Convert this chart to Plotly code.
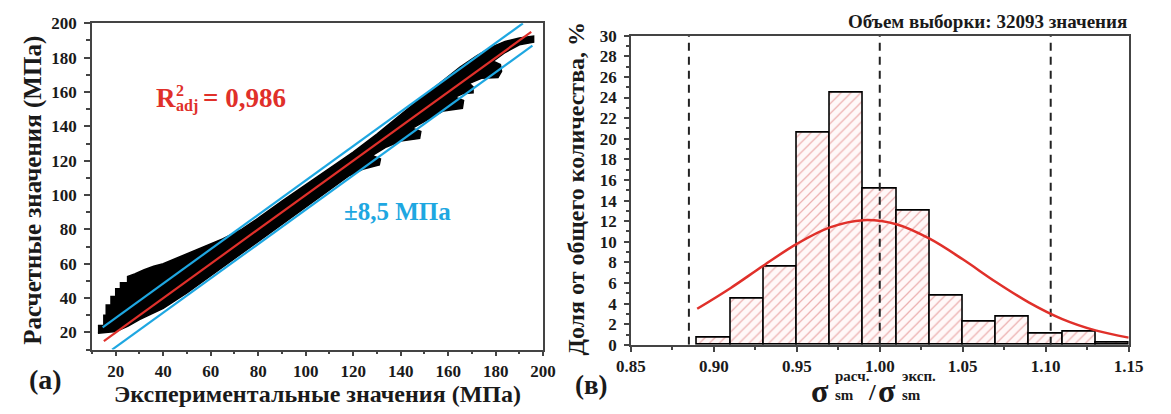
import plotly.graph_objects as go

W, H = 1171, 414

# ---------------- data: panel (a) ----------------
band_upper_x = [12.5, 15, 15, 16, 16, 18, 18, 20, 20, 22, 22, 25, 25, 28, 32, 36, 40, 46, 55, 65, 73, 80,
                90, 100, 110, 120, 130, 140, 150, 160, 165, 172, 178, 184, 190, 196]
band_upper_y = [24, 24, 30, 30, 36, 36, 41, 41, 45.5, 45.5, 49, 49, 52.5, 54, 56.5, 58.5, 60, 63.5, 68.5,
                74.5, 80, 86.5, 96.5, 106, 115.5, 125, 135.5, 147, 158, 169, 174.5, 181, 186, 189.5, 191.5, 192.5]
band_lower_x = [12.5, 20, 25, 30, 40, 50, 60, 70, 80, 90, 100, 110, 118, 124, 131, 131.5, 128, 134, 140,
                148, 148.5, 145, 150, 158, 166, 166.5, 163, 166, 170.5, 170.5, 169, 174, 181, 182.5, 182,
                179, 184, 190, 196, 196]
band_lower_y = [19.5, 20.5, 23.5, 27.5, 34, 43, 52.5, 62.5, 72.5, 82.5, 92.5, 103, 111, 115, 117.5, 121, 123,
                128, 131.5, 133, 137, 139, 143, 149, 150.5, 155, 157, 159, 159.5, 163, 165, 168, 168.5,
                172, 176, 178, 183, 187.5, 189, 192.5]
fit_x = [15, 195]
fit_y = [15, 195]
band_hi_x = [14.5, 191.5]
band_hi_y = [23, 200]
band_lo_x = [18.5, 195.5]
band_lo_y = [10, 187]
a_ticks = [20, 40, 60, 80, 100, 120, 140, 160, 180, 200]

# ---------------- data: panel (в) ----------------
bin_centers = [0.90, 0.92, 0.94, 0.96, 0.98, 1.00, 1.02, 1.04, 1.06, 1.08, 1.10, 1.12, 1.14]
bin_share = [0.7, 4.5, 7.6, 20.6, 24.5, 15.2, 13.0, 4.8, 2.2, 2.7, 1.1, 1.3, 0.25]
curve_x = [0.89, 0.91, 0.93, 0.95, 0.97, 0.99, 1.01, 1.03, 1.05, 1.07, 1.09, 1.11, 1.13, 1.15]
curve_y = [3.5, 5.5, 7.7, 9.8, 11.4, 12.1, 11.7, 10.3, 8.3, 6.1, 4.1, 2.5, 1.4, 0.7]
dash_lines = [0.885, 1.0, 1.103]
v_ticks = [0.85, 0.90, 0.95, 1.00, 1.05, 1.10, 1.15]
v_yticks = list(range(0, 31, 2))

RED = "#e0302a"
CYAN = "#1ea7e1"
SERIF = "Liberation Serif"
TXT = "#1a1a1a"
AX = "#444444"


def px(x):
    return x / W


def py(y):
    return 1 - y / H


fig = go.Figure()

# panel (a)
poly_x = band_upper_x + band_lower_x[::-1]
poly_y = band_upper_y + band_lower_y[::-1]
fig.add_trace(go.Scatter(x=poly_x, y=poly_y, fill="toself", fillcolor="black", mode="lines",
                         line=dict(color="black", width=1.5), xaxis="x", yaxis="y", hoverinfo="skip"))
fig.add_trace(go.Scatter(x=fit_x, y=fit_y, mode="lines", line=dict(color=RED, width=2.2),
                         xaxis="x", yaxis="y"))
fig.add_trace(go.Scatter(x=band_hi_x, y=band_hi_y, mode="lines", line=dict(color=CYAN, width=2.2),
                         xaxis="x", yaxis="y"))
fig.add_trace(go.Scatter(x=band_lo_x, y=band_lo_y, mode="lines", line=dict(color=CYAN, width=2.2),
                         xaxis="x", yaxis="y"))

# panel (в)
fig.add_trace(go.Bar(x=bin_centers, y=bin_share, width=0.02, xaxis="x2", yaxis="y2",
                     marker=dict(color="white", line=dict(color="black", width=1.6),
                                 pattern=dict(shape="/", fgcolor="rgba(210,80,80,0.85)", bgcolor="#fff8f8",
                                              size=7, solidity=0.18))))
for v in dash_lines:
    fig.add_trace(go.Scatter(x=[v, v], y=[0, 30], mode="lines", xaxis="x2", yaxis="y2",
                             line=dict(color="#222", width=2, dash="8px,6px")))
fig.add_trace(go.Scatter(x=curve_x, y=curve_y, mode="lines", line=dict(color=RED, width=2.5, shape="spline"),
                         xaxis="x2", yaxis="y2"))

tickfont = dict(family=SERIF, size=17, color=TXT, weight="bold")
common = dict(showgrid=False, zeroline=False, showline=True, linecolor=AX, linewidth=1.5, mirror=True,
              ticks="outside", tickcolor=AX, tickwidth=1.5, tickfont=tickfont)

fig.update_layout(
    width=W, height=H, margin=dict(l=0, r=0, t=0, b=0), showlegend=False,
    paper_bgcolor="white", plot_bgcolor="white", bargap=0,
    xaxis=dict(domain=[px(79), px(542)], range=[10, 200], tickvals=a_ticks, ticklen=5,
               minor=dict(ticks="outside", dtick=10, ticklen=3, tickcolor=AX), anchor="y",
               ticklabelstandoff=0, **common),
    yaxis=dict(domain=[py(357), py(15)], range=[10, 200], tickvals=a_ticks, ticklen=6,
               minor=dict(ticks="outside", dtick=10, ticklen=4, tickcolor=AX), anchor="x",
               ticklabelstandoff=4, **common),
    xaxis2=dict(domain=[px(632), px(1143)], range=[0.85, 1.15], tickvals=v_ticks,
                ticktext=[f"{t:.2f}" for t in v_ticks], ticklen=5,
                minor=dict(ticks="outside", dtick=0.025, ticklen=3, tickcolor=AX), anchor="y2", **common),
    yaxis2=dict(domain=[py(352), py(28)], range=[0, 30], tickvals=v_yticks, ticklen=5,
                minor=dict(ticks="outside", dtick=1, ticklen=3, tickcolor=AX), anchor="x2",
                ticklabelstandoff=4, **common),
)


def ann(text, x, y, size, color=TXT, xanchor="center", yanchor="middle", angle=0):
    fig.add_annotation(text=text, x=px(x), y=py(y), xref="paper", yref="paper", showarrow=False,
                       xanchor=xanchor, yanchor=yanchor, textangle=angle,
                       font=dict(family=SERIF, size=size, color=color, weight="bold"))


# panel (a) texts
ann("R", 143, 93, 27, RED, xanchor="left")
ann("2", 163, 85, 16, RED, xanchor="left")
ann("adj", 163, 102, 16, RED, xanchor="left")
ann("= 0,986", 191, 93, 27, RED, xanchor="left")
ann("±8,5 МПа", 336, 212, 25, CYAN, xanchor="left")
ann("Расчетные значения (МПа)", 19, 190, 25, angle=-90)
ann("Экспериментальные значения (МПа)", 310, 404, 24)
ann("(а)", 31, 388, 28)

# panel (в) texts
ann("Объем выборки: 32093 значения", 1143, 13, 19, xanchor="right")
ann("Доля от общего количества, %", 576, 188, 24, angle=-90)
ann("(в)", 592, 394, 27)
ann("σ", 837, 400, 32, xanchor="right")
ann("расч.", 839, 385, 15, xanchor="left")
ann("sm", 839, 405, 15, xanchor="left")
ann("/", 880, 401, 24)
ann("σ", 906, 400, 32, xanchor="right")
ann("эксп.", 908, 385, 15, xanchor="left")
ann("sm", 908, 405, 15, xanchor="left")

fig.write_html("out.html")
